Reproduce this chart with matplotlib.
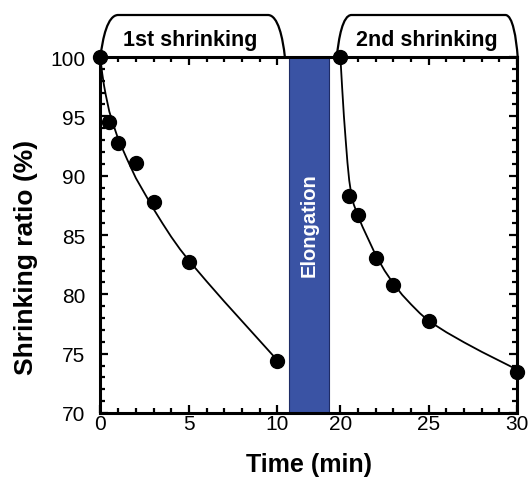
import numpy as np
import matplotlib.pyplot as plt
import matplotlib.transforms as mtransforms
from matplotlib.path import Path
from matplotlib.patches import PathPatch

plt.rcParams['font.family'] = ['Liberation Sans', 'DejaVu Sans']

# --- data ---
t_first = [0, 0.5, 1, 2, 3, 5, 10]
ratio_first = [100, 94.55, 92.73, 91.10, 87.81, 82.75, 74.41]
t_second = [20, 20.5, 21, 22, 23, 25, 30]
ratio_second = [100, 88.31, 86.71, 83.07, 80.79, 77.73, 73.49]

# fitted curves (traced)
fit_t_first = [0, 0.05, 0.1, 0.2, 0.3, 0.5, 0.75, 1, 1.5, 2, 2.5, 3, 3.5, 4,
               4.5, 5, 6, 7, 8, 9, 10]
fit_r_first = [100, 99.2, 98.6, 97.6, 96.8, 95.4, 94.2, 93.1, 91.4, 89.8,
               88.5, 87.2, 86.0, 84.85, 83.8, 82.85, 81.1, 79.4, 77.75, 76.1,
               74.45]
fit_t_second = [20, 20.05, 20.1, 20.2, 20.3, 20.4, 20.5, 20.6, 20.75, 21,
                21.25, 21.5, 22, 22.5, 23, 23.5, 24, 24.5, 25, 26, 27, 28, 29,
                30]
fit_r_second = [100, 98.7, 97.4, 95.0, 93.0, 91.1, 89.6, 88.6, 87.6, 86.6,
                85.7, 84.9, 83.3, 82.0, 80.9, 79.95, 79.15, 78.4, 77.75, 76.8,
                75.95, 75.15, 74.4, 73.65]

x_major = [0, 5, 10, 20, 25, 30]
x_minor = [1, 2, 3, 4, 6, 7, 8, 9, 21, 22, 23, 24, 26, 27, 28, 29]

GAP_SHIFT = 6.43          # minutes cut out of the axis during elongation
ELONG_BAND = (10.65, 12.91)  # axis units


def to_axis(t):
    t = np.asarray(t, dtype=float)
    return np.where(t >= 15, t - GAP_SHIFT, t)


fig = plt.figure(figsize=(5.28, 4.81), dpi=100)
ax = fig.add_axes([0.1903, 0.1393, 0.7892, 0.7401])
trans = mtransforms.blended_transform_factory(ax.transData, ax.transAxes)

ax.axvspan(*ELONG_BAND, facecolor='#3a53a4', edgecolor='#1e2c66', lw=0.8, zorder=1)
ax.text(sum(ELONG_BAND) / 2, 0.53, 'Elongation', transform=trans,
        rotation=90, ha='center', va='center', color='white', fontsize=14.5, fontweight='bold', zorder=2)

ax.plot(to_axis(fit_t_first), fit_r_first, color='black', lw=1.3, zorder=3)
ax.plot(to_axis(fit_t_second), fit_r_second, color='black', lw=1.3, zorder=3)
ax.plot(to_axis(t_first), ratio_first, 'o', color='black', ms=10, clip_on=False, zorder=4)
ax.plot(to_axis(t_second), ratio_second, 'o', color='black', ms=10, clip_on=False, zorder=4)

ax.set_xlim(0, 30 - GAP_SHIFT)
ax.set_ylim(70, 100)

ax.set_xticks(to_axis(x_major))
ax.set_xticklabels([str(v) for v in x_major])
ax.set_xticks(to_axis(x_minor), minor=True)
ax.set_yticks(range(70, 101, 5))
ax.set_yticks(range(70, 101, 1), minor=True)

ax.tick_params(which='both', direction='in', top=True, right=True, width=1.6, labelsize=15)
ax.tick_params(which='major', length=6)
ax.tick_params(which='minor', length=3.5)
ax.tick_params(axis='x', pad=1)
ax.tick_params(axis='y', pad=11)
for sp in ax.spines.values():
    sp.set_linewidth(2.2)
    sp.set_zorder(5)

ax.set_xlabel('Time (min)', fontsize=18, fontweight='bold', va='center')
ax.xaxis.set_label_coords(0.5, -0.143)
ax.set_ylabel('Shrinking ratio (%)', fontsize=19, fontweight='bold', va='center')
ax.yaxis.set_label_coords(-0.179, 0.441)

# tabs over the two shrinking phases
top = 1.118
h = top - 1.0


def tab(x0, xa, xb, x1, label, xc):
    dl = xa - x0
    dr = x1 - xb
    verts = [(x0, 1.0), (x0 + 0.12 * dl, 1.0 + 0.45 * h), (x0 + 0.4 * dl, top), (xa, top),
             (xb, top),
             (x1 - 0.4 * dr, top), (x1 - 0.12 * dr, 1.0 + 0.45 * h), (x1, 1.0)]
    codes = [Path.MOVETO, Path.CURVE4, Path.CURVE4, Path.CURVE4, Path.LINETO,
             Path.CURVE4, Path.CURVE4, Path.CURVE4]
    ax.add_patch(PathPatch(Path(verts, codes), transform=trans, fill=False, lw=1.6,
                           edgecolor='black', clip_on=False))
    ax.text(xc, 1.05, label, transform=trans, ha='center', va='center',
            fontsize=15.5, fontweight='bold')


tab(0, 1.0, 9.47, 10.43, '1st shrinking', 5.09)
tab(13.37, 14.2, 22.9, 23.6, '2nd shrinking', 18.44)

fig.savefig('out.png', dpi=100)
